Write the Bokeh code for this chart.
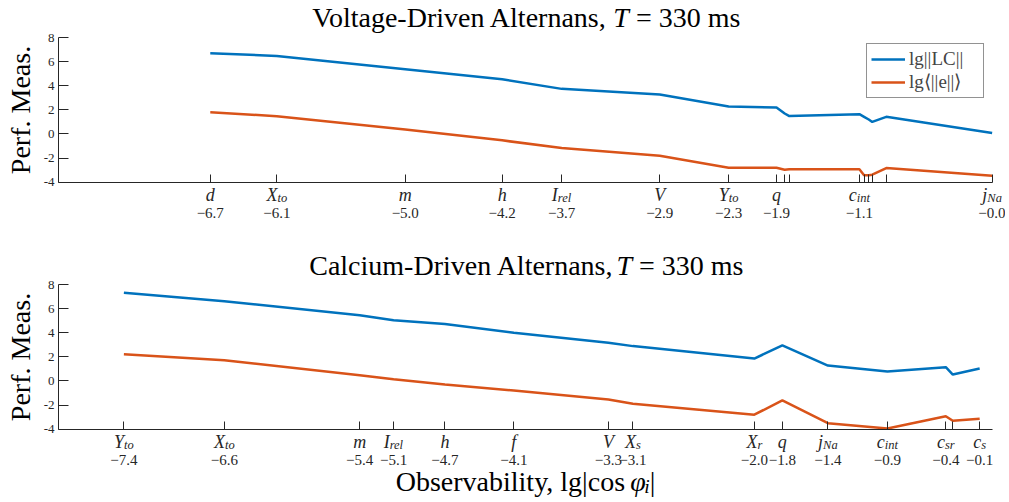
from bokeh.plotting import figure
from bokeh.models import Label, FixedTicker, Legend, LegendItem, Range1d
from bokeh.layouts import column
from bokeh.embed import file_html
from bokeh.resources import INLINE

# ---------------- data ----------------
top_title = [("Voltage-Driven Alternans, ", "normal"), ("T", "italic"), (" = 330 ms", "normal")]
top_ticks = [-6.70, -6.13, -5.03, -4.20, -3.69, -2.85, -2.26, -1.85, -1.78, -1.74,
             -1.14, -1.10, -1.06, -1.03, -0.91, -0.003]
top_names = ["d", "X_to", "m", "h", "I_rel", "V", "Y_to", "q", "", "",
             "c_int", "", "", "", "", "j_Na"]
top_labels = ["−6.7", "−6.1", "−5.0", "−4.2", "−3.7", "−2.9", "−2.3", "−1.9", "", "",
              "−1.1", "", "", "", "", "−0.0"]
top_lc = [6.70, 6.47, 5.37, 4.53, 3.74, 3.28, 2.28, 2.20, 1.70, 1.48,
          1.64, 1.42, 1.20, 1.00, 1.42, 0.08]
top_e = [1.81, 1.47, 0.37, -0.53, -1.17, -1.80, -2.80, -2.80, -2.97, -2.92,
         -2.92, -3.42, -3.42, -3.38, -2.83, -3.47]

bot_title = [("Calcium-Driven Alternans, ", "normal"), ("T", "italic"), (" = 330 ms", "normal")]
bot_ticks = [-7.44, -6.58, -5.42, -5.13, -4.69, -4.10, -3.29, -3.08, -2.04, -1.80,
             -1.41, -0.90, -0.40, -0.34, -0.11]
bot_names = ["Y_to", "X_to", "m", "I_rel", "h", "f", "V", "X_s", "X_r", "q",
             "j_Na", "c_int", "c_sr", "", "c_s"]
bot_labels = ["−7.4", "−6.6", "−5.4", "−5.1", "−4.7", "−4.1", "−3.3", "−3.1", "−2.0", "−1.8",
              "−1.4", "−0.9", "−0.4", "", "−0.1"]
bot_lc = [7.31, 6.62, 5.45, 5.03, 4.72, 4.00, 3.17, 2.89, 1.86, 2.95,
          1.28, 0.78, 1.14, 0.53, 1.03]
bot_e = [2.22, 1.72, 0.47, 0.14, -0.30, -0.80, -1.53, -1.89, -2.80, -1.61,
         -3.50, -3.94, -2.92, -3.30, -3.13]

x_bounds = (-8, 0)
y_bounds = (-4, 8)
y_ticks = [-4, -2, 0, 2, 4, 6, 8]
series_names = ["lg||LC||", "lg⟨||e||⟩"]
x_title = [("Observability, lg|cos ", "normal"), ("φ", "italic"), ("i", "sub"), ("|", "normal")]
y_title = "Perf. Meas."

# ---------------- style ----------------
FONT = "Liberation Serif"
BLUE = "#0072BD"
ORANGE = "#D95319"
AX = "#262626"
W = 1005
TITLE_SIZE = 28

# Times-compatible advance widths (em) for placing mixed-style text pieces
REG = {" ": .25, ",": .25, "-": .333, ".": .25, "=": .564, "|": .2, "A": .722, "C": .667,
       "D": .722, "O": .722, "T": .611, "V": .722, "a": .444, "b": .5, "c": .444, "d": .5,
       "e": .444, "g": .5, "i": .278, "l": .278, "m": .778, "n": .5, "o": .5, "r": .333,
       "s": .389, "t": .278, "u": .5, "v": .5, "y": .5}
ITA = {"a": .5, "c": .444, "d": .5, "e": .444, "f": .278, "h": .5, "i": .278, "j": .278,
       "l": .278, "m": .722, "n": .5, "o": .5, "q": .5, "r": .389, "s": .389, "t": .278,
       "I": .333, "N": .667, "T": .556, "V": .611, "X": .611, "Y": .556, "φ": .5}


def tw(s, size, italic=False):
    tbl = ITA if italic else REG
    return sum(tbl.get(ch, 0.5) for ch in s) * size


class Frame:
    """maps canvas pixels to data so the whole canvas is the plotting frame"""
    def __init__(self, h, fx0, fx1, fy0, fy1):
        self.sx = (x_bounds[1] - x_bounds[0]) / (fx1 - fx0)
        self.sy = (y_bounds[1] - y_bounds[0]) / (fy1 - fy0)
        self.fx0, self.fy1 = fx0, fy1
        self.xr = Range1d(x_bounds[0] - fx0 * self.sx, x_bounds[1] + (W - fx1) * self.sx)
        self.yr = Range1d(y_bounds[0] - (h - fy1) * self.sy, y_bounds[1] + fy0 * self.sy)

    def x(self, px):
        return x_bounds[0] + (px - self.fx0) * self.sx

    def y(self, py):
        return y_bounds[0] - (py - self.fy1) * self.sy


def add_pieces(p, fr, pieces, cx, base_py, size):
    sizes = [size * 0.7 if st == "sub" else size for _, st in pieces]
    widths = [tw(txt, sz, st != "normal") * (0.985 if st == "normal" else 1.0)
              for (txt, st), sz in zip(pieces, sizes)]
    x0 = -sum(widths) / 2.0
    for (txt, st), sz, w in zip(pieces, sizes, widths):
        lead = len(txt) - len(txt.lstrip(" "))
        dy = 5 if st == "sub" else 0
        p.add_layout(Label(x=cx, y=fr.y(base_py + dy), x_offset=x0 + lead * REG[" "] * sz,
                           text=txt.strip(" "),
                           text_font=FONT, text_font_size=f"{sz:.1f}px",
                           text_font_style="normal" if st == "normal" else "italic",
                           text_color="#000000", text_align="left",
                           text_baseline="alphabetic"))
        x0 += w


def add_names(p, fr, ticks, names, axis_py):
    main_size, sub_size = 18, 12.5
    for t, name in zip(ticks, names):
        if not name:
            continue
        base, sub = (name.split("_") + [""])[:2]
        wm, ws = tw(base, main_size, True), tw(sub, sub_size, True)
        x0 = -(wm + ws) / 2.0
        p.add_layout(Label(x=t, y=fr.y(axis_py + 13), x_offset=x0, text=base,
                           text_font=FONT, text_font_style="italic",
                           text_font_size=f"{main_size}px", text_color=AX,
                           text_align="left", text_baseline="alphabetic"))
        if sub:
            p.add_layout(Label(x=t, y=fr.y(axis_py + 15.5), x_offset=x0 + wm, text=sub,
                               text_font=FONT, text_font_style="italic",
                               text_font_size=f"{sub_size}px", text_color=AX,
                               text_align="left", text_baseline="alphabetic"))


def make(ticks, names, labels, lc, e, title, height, fy0, fy1, title_py,
         legend=False, xlabel=False):
    fr = Frame(height, 58, 992, fy0, fy1)
    p = figure(width=W, height=height, x_range=fr.xr, y_range=fr.yr,
               output_backend="svg", toolbar_location=None, min_border=0)
    p.title.visible = False
    p.outline_line_color = None
    p.xgrid.visible = False
    p.ygrid.visible = False

    xa = p.xaxis[0]
    xa.fixed_location = y_bounds[0]
    xa.bounds = x_bounds
    xa.ticker = FixedTicker(ticks=ticks)
    xa.major_label_overrides = dict(zip(ticks, labels))
    xa.major_tick_in = 8
    xa.major_tick_out = 0
    xa.minor_tick_line_color = None
    xa.major_label_standoff = 26
    xa.major_label_text_font = FONT
    xa.major_label_text_font_size = "15px"
    xa.major_label_text_color = AX
    xa.axis_line_color = AX
    xa.major_tick_line_color = AX

    ya = p.yaxis[0]
    ya.fixed_location = x_bounds[0]
    ya.bounds = y_bounds
    ya.ticker = FixedTicker(ticks=y_ticks)
    ya.major_label_overrides = {v: str(v) for v in y_ticks}
    ya.major_tick_in = 10
    ya.major_tick_out = 0
    ya.minor_tick_line_color = None
    ya.major_label_standoff = 4
    ya.major_label_text_font = FONT
    ya.major_label_text_font_size = "13px"
    ya.major_label_text_color = AX
    ya.axis_line_color = AX
    ya.major_tick_line_color = AX
    ya.axis_label = y_title
    ya.axis_label_text_font = FONT
    ya.axis_label_text_font_style = "normal"
    ya.axis_label_text_font_size = f"{TITLE_SIZE}px"
    ya.axis_label_text_color = "#000000"
    ya.axis_label_standoff = 5

    r1 = p.line(ticks, lc, line_color=BLUE, line_width=2.5)
    r2 = p.line(ticks, e, line_color=ORANGE, line_width=2.5)

    add_names(p, fr, ticks, names, fy1)
    add_pieces(p, fr, title, fr.x(525), title_py, TITLE_SIZE)

    if xlabel:
        add_pieces(p, fr, x_title, fr.x(525), fy1 + 52.5, TITLE_SIZE)

    if legend:
        lg = Legend(items=[LegendItem(label=series_names[0], renderers=[r1]),
                           LegendItem(label=series_names[1], renderers=[r2])],
                    location=(866, height - 98))
        lg.label_text_font = FONT
        lg.label_text_font_size = "19px"
        lg.glyph_width = 34
        lg.glyph_height = 20
        lg.label_height = 20
        lg.label_width = 70
        lg.label_standoff = 4
        lg.padding = 4
        lg.spacing = 0
        lg.margin = 0
        lg.border_line_color = AX
        lg.border_line_width = 1
        lg.background_fill_alpha = 1
        p.add_layout(lg, "center")
    return p


p1 = make(top_ticks, top_names, top_labels, top_lc, top_e, top_title,
          244, 37, 181.7, 17, legend=True)
p2 = make(bot_ticks, bot_names, bot_labels, bot_lc, bot_e, bot_title,
          256, 40, 184.7, 20.5, xlabel=True)

layout = column(p1, p2, spacing=0)
open("out.html", "w").write(file_html(layout, INLINE))
